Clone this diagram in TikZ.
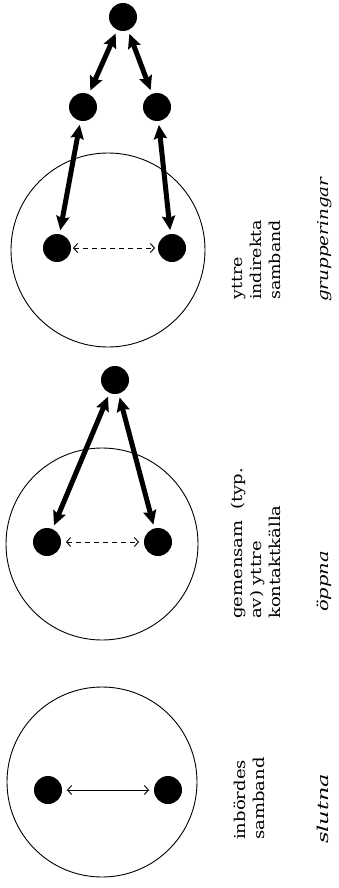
\documentclass[tikz,border=0pt]{standalone}
\usepackage{fontspec}
\setmainfont{DejaVu Serif}
\usetikzlibrary{arrows.meta}
\newcommand{\stretchtxt}[2]{\scalebox{#1}[1]{\begin{tabular}[t]{@{}l@{}}#2\end{tabular}}}
\begin{document}
\begin{tikzpicture}[x=1pt,y=-1pt,
  dot/.style={circle,fill=black,draw=none,minimum size=28pt,inner sep=0pt,outer sep=0pt},
  ring/.style={circle,draw=black,line width=0.9pt,inner sep=0pt,outer sep=0pt},
  thickarrow/.style={line width=5pt,{Stealth[length=14pt,width=13pt,inset=2pt]}-{Stealth[length=14pt,width=13pt,inset=2pt]},shorten <=4pt,shorten >=4pt},
  thinarrow/.style={line width=0.9pt,{Straight Barb[length=4pt,width=9pt]}-{Straight Barb[length=4pt,width=9pt]},shorten <=5pt,shorten >=5pt},
  dasharrow/.style={thinarrow,dash pattern=on 5pt off 4pt},
  lbl/.style={rotate=90,anchor=base west,inner sep=0pt,font=\fontsize{15}{19}\selectfont},
  ital/.style={rotate=90,anchor=base west,inner sep=0pt,font=\fontsize{15}{19}\selectfont\itshape}]
\useasboundingbox (0,0) rectangle (339,888);
\fill[white] (0,0) rectangle (339,888);

% panel 3 (top)
\node[ring,minimum size=194pt] (c3) at (108,250) {};
\node[dot] (t3) at (123,17) {};
\node[dot] (m3l) at (83,107) {};
\node[dot] (m3r) at (157,107) {};
\node[dot] (b3l) at (57,248) {};
\node[dot] (b3r) at (172,248) {};
\draw[thickarrow] (t3) -- (m3l);
\draw[thickarrow] (t3) -- (m3r);
\draw[thickarrow] (m3l) -- (b3l);
\draw[thickarrow] (m3r) -- (b3r);
\draw[dasharrow,shorten <=2pt,shorten >=3pt] (b3l) -- (b3r);
\node[lbl] (txt3) at (242,300) {\stretchtxt{1.16}{yttre\\indirekta\\samband}};
\node[ital] (it3) at (328,302) {\stretchtxt{1.22}{grupperingar}};

% panel 2 (middle)
\node[ring,minimum size=192pt] (c2) at (102,544) {};
\node[dot] (t2) at (115,380) {};
\node[dot] (b2l) at (47,542) {};
\node[dot] (b2r) at (158,542) {};
\draw[thickarrow] (t2) -- (b2l);
\draw[thickarrow] (t2) -- (b2r);
\draw[dasharrow] (b2l) -- (b2r);
\node[lbl] (txt2) at (242,619) {\stretchtxt{1.2}{gemensam\hspace{0.6em}(typ.\\av) yttre\\kontaktkälla}};
\node[ital] (it2) at (328,612) {\stretchtxt{1.3}{öppna}};

% panel 1 (bottom)
\node[ring,minimum size=190pt] (c1) at (102,782) {};
\node[dot] (b1l) at (48,790) {};
\node[dot] (b1r) at (168,790) {};
\draw[thinarrow] (b1l) -- (b1r);
\node[lbl] (txt1) at (245,840) {\stretchtxt{1.2}{inbördes\\samband}};
\node[ital] (it1) at (328,844) {\stretchtxt{1.5}{slutna}};
\end{tikzpicture}
\end{document}
